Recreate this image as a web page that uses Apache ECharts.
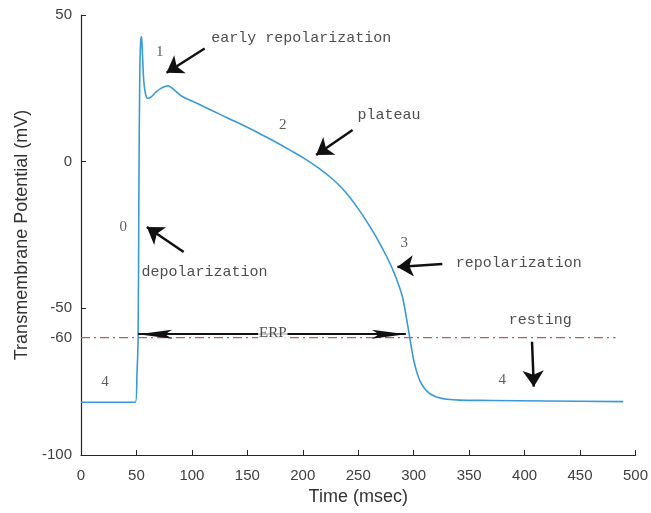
<!DOCTYPE html>
<html>
<head>
<meta charset="utf-8">
<script src="https://cdn.jsdelivr.net/npm/echarts@6/dist/echarts.min.js"></script>
<style>html,body{margin:0;padding:0;background:#fff}#c{width:651px;height:513px}</style>
</head>
<body>
<div id="c"></div>
<script>
// Action potential trace (time in ms, potential in mV)
var timeMs = [0, 49, 50.5, 51.5, 52.2, 53, 53.8, 54.6, 55.5, 56.5, 57.5, 59, 60.5, 63, 67, 72, 78.5, 84, 90.5, 100, 110, 125, 143, 160, 173, 190, 203, 215, 227, 235, 242, 251, 257, 264, 269, 275, 281, 286, 290, 293, 296, 298, 300, 303, 306, 310, 314, 318, 323, 330, 341, 370, 420, 489];
var potential = [-82, -82, -72, -60, -10, 30, 41, 42.6, 36, 28, 24.5, 22, 21.6, 22, 23.5, 25, 25.9, 24.5, 22.4, 20.7, 18.9, 16.2, 13.0, 9.8, 7.2, 3.6, 0.7, -2.4, -6.0, -8.9, -12.0, -16.6, -20.0, -24.3, -27.6, -31.9, -36.7, -41.5, -46.3, -52.3, -59.0, -63.5, -67.6, -72.0, -75.0, -77.4, -78.9, -79.8, -80.5, -81.0, -81.3, -81.4, -81.6, -81.8];

// threshold line
var thresholdLevel = -60;
var thresholdRange = [0, 482];

// axis ticks
var xTicks = [0, 50, 100, 150, 200, 250, 300, 350, 400, 450, 500];
var yTicks = [-100, -60, -50, 0, 50];

// phase labels: [time, potential, text]
var phaseLabels = [[71, 37.5, '1'], [182, 12.5, '2'], [38, -22.2, '0'], [291.4, -27.8, '3'], [21.6, -75, '4'], [379.8, -74.4, '4']];
// annotation texts (left anchored): [time, potential, text]
var noteLabels = [[117.5, 42.0, 'early repolarization'], [249.4, 15.9, 'plateau'], [54.6, -37.5, 'depolarization'], [337.9, -34.6, 'repolarization'], [385.8, -54.0, 'resting']];
// arrows: [tailTime, tailPot, tipTime, tipPot]
var arrows = [[111.5, 38.6, 77.1, 30.3], [244.9, 10.8, 212.0, 2.3], [92.6, -30.8, 59.4, -22.3], [325.8, -34.9, 285.3, -35.9], [406.7, -61.4, 408.3, -76.7]];
// ERP double arrow
var erp = [51.5, 292.9, -58.8];
var erpLabel = [172.9, -58.6, 'ERP'];

var curve = timeMs.map(function (t, i) { return [t, potential[i]]; });

// slender arrow head, tip at centre of a square box
var slimArrow = 'path://M-34,-34 M34,34 M0,0 L4.5,34 L0,27 L-4.5,34 Z';

var chart = echarts.init(document.getElementById('c'), null, {renderer: 'canvas'});
chart.setOption({
  animation: false,
  backgroundColor: '#ffffff',
  grid: {left: 81, right: 14, top: 15, bottom: 58, containLabel: false},
  xAxis: {
    type: 'value', min: 0, max: 500, interval: 50,
    name: 'Time (msec)', nameLocation: 'middle', nameGap: 33,
    nameTextStyle: {fontFamily: 'Liberation Sans', fontSize: 18, color: '#333'},
    axisLine: {show: true, onZero: false, lineStyle: {color: '#262626', width: 1.2}},
    axisTick: {show: true, inside: true, length: 5, lineStyle: {color: '#262626'}},
    axisLabel: {fontFamily: 'Liberation Sans', fontSize: 15, color: '#404040', margin: 13,
      customValues: xTicks},
    splitLine: {show: false}
  },
  yAxis: {
    type: 'value', min: -100, max: 50,
    name: 'Transmembrane Potential (mV)', nameLocation: 'middle', nameGap: 48,
    nameTextStyle: {fontFamily: 'Liberation Sans', fontSize: 18, color: '#333'},
    axisLine: {show: true, onZero: false, lineStyle: {color: '#262626', width: 1.2}},
    axisTick: {show: true, inside: true, length: 5, lineStyle: {color: '#262626'}, customValues: yTicks},
    axisLabel: {fontFamily: 'Liberation Sans', fontSize: 15, color: '#404040', margin: 9, customValues: yTicks},
    splitLine: {show: false}
  },
  series: [
    {
      type: 'line', data: [[thresholdRange[0], thresholdLevel], [thresholdRange[1], thresholdLevel]],
      showSymbol: false, silent: true, z: 1,
      lineStyle: {color: '#b5605a', width: 1.2, type: [9, 4, 2, 4]}
    },
    {
      type: 'line', data: curve, showSymbol: false, smooth: 0.3, z: 3,
      lineStyle: {color: '#3a9ad8', width: 1.6}
    },
    {
      type: 'lines', coordinateSystem: 'cartesian2d', z: 4,
      symbol: ['none', 'arrow'], symbolSize: 16,
      lineStyle: {color: '#111', width: 2.5, opacity: 1},
      data: arrows.map(function (a) { return {coords: [[a[0], a[1]], [a[2], a[3]]]}; })
    },
    {
      type: 'lines', coordinateSystem: 'cartesian2d', z: 4,
      symbol: [slimArrow, slimArrow], symbolSize: 68,
      lineStyle: {color: '#111', width: 2, opacity: 1},
      data: [{coords: [[erp[1], erp[2]], [erp[0], erp[2]]]}]
    },
    {
      type: 'scatter', symbolSize: 0, z: 6, silent: true,
      data: [erpLabel].map(function (p) { return {value: [p[0], p[1]], name: p[2]}; }),
      label: {show: true, position: [0, 0], align: 'center', verticalAlign: 'middle',
        formatter: '{b}', fontFamily: 'Liberation Serif', fontSize: 15, color: '#222',
        backgroundColor: '#fff', padding: [0, 1]}
    },
    {
      type: 'scatter', symbolSize: 0, z: 5, silent: true,
      data: phaseLabels.map(function (p) { return {value: [p[0], p[1]], name: p[2]}; }),
      label: {show: true, position: [0, 0], align: 'center', verticalAlign: 'middle',
        formatter: '{b}', fontFamily: 'Liberation Serif', fontSize: 15, color: '#333'}
    },
    {
      type: 'scatter', symbolSize: 0, z: 5, silent: true,
      data: noteLabels.map(function (p) { return {value: [p[0], p[1]], name: p[2]}; }),
      label: {show: true, position: [0, 0], align: 'left', verticalAlign: 'middle',
        formatter: '{b}', fontFamily: 'Liberation Mono', fontSize: 15, color: '#222'}
    }
  ]
});
</script>
</body>
</html>
